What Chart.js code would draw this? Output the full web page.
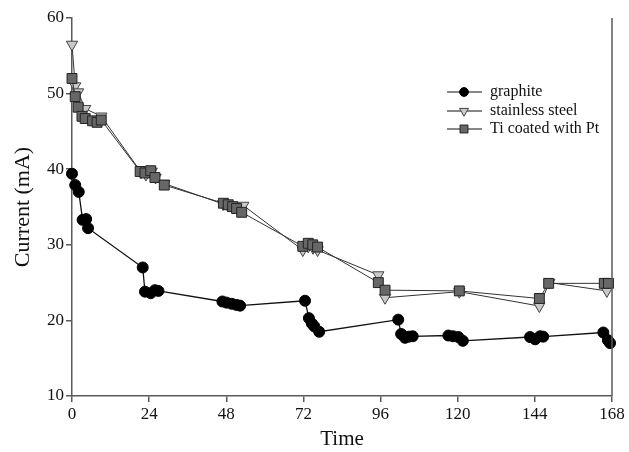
<!DOCTYPE html>
<html>
<head>
<meta charset="utf-8">
<script src="https://cdn.jsdelivr.net/npm/chart.js@4/dist/chart.umd.min.js"></script>
<style>
  html, body { margin: 0; padding: 0; background: #fff; }
  #wrap { width: 629px; height: 452px; }
</style>
</head>
<body>
<div id="wrap"><canvas id="currentChart" width="629" height="452"></canvas></div>
<script>
// valores
const seriesLabels = ['graphite', 'stainless steel', 'Ti coated with Pt'];

const graphiteTime = [0, 1, 2.1, 3.3, 4.4, 5, 22, 22.7, 24.5, 25.8, 26.9, 46.8, 48.1, 49.7, 51.2, 52.3,
  72.5, 73.7, 74.6, 75.4, 76.9, 101.5, 102.4, 103.6, 104.8, 106, 117.1, 118.6, 120.2, 121.6,
  142.5, 144.1, 145.6, 146.6, 165.3, 166.7, 167.4];
const graphiteCurrent = [39.4, 37.9, 37.0, 33.3, 33.4, 32.2, 27.0, 23.8, 23.6, 24.0, 23.9, 22.5, 22.35, 22.2, 22.05, 21.95,
  22.6, 20.3, 19.6, 19.2, 18.5, 20.1, 18.2, 17.7, 17.85, 17.9, 18.0, 17.9, 17.8, 17.3,
  17.8, 17.5, 17.9, 17.85, 18.4, 17.4, 17.0];

const steelTime = [0, 1, 1.9, 4.1, 9.1, 21.5, 23, 24.8, 26, 28.7, 47, 48.5, 50, 51.2, 53.3,
  71.8, 73.5, 75, 76.4, 95.3, 97.4, 120.5, 145.4, 148.5, 166.4];
const steelCurrent = [56.5, 51.0, 50.2, 48.0, 47.0, 39.6, 39.3, 39.7, 38.9, 38.1, 35.4, 35.2, 35.0, 34.9, 35.2,
  29.3, 29.8, 29.6, 29.3, 26.0, 23.0, 23.8, 21.9, 25.0, 23.9];

const tiTime = [0, 1, 1.9, 3.1, 4.1, 6.4, 7.8, 9.1, 21.2, 22.7, 24.5, 25.8, 28.7, 47.1, 48.6, 50, 51.2, 52.8,
  71.8, 73.5, 74.9, 76.4, 95.3, 97.4, 120.5, 145.4, 148.3, 165.6, 166.9];
const tiCurrent = [52.0, 49.6, 48.2, 47.0, 46.7, 46.4, 46.2, 46.5, 39.7, 39.5, 39.8, 38.9, 37.9, 35.5, 35.3, 35.05, 34.8, 34.3,
  29.8, 30.2, 30.0, 29.7, 25.0, 24.0, 23.9, 22.9, 24.9, 24.9, 24.9];

const xTicks = [0, 24, 48, 72, 96, 120, 144, 168];
const yTicks = [10, 20, 30, 40, 50, 60];

function pares(xs, ys) {
  return xs.map((x, i) => ({ x: x, y: ys[i] }));
}

const serif = "'Liberation Serif', 'DejaVu Serif', serif";
const axisColor = '#5a5a5a';

// borda direita e legenda desenhadas à mão
const molduraPlugin = {
  id: 'moldura',
  afterDraw(chart) {
    const { ctx, chartArea } = chart;
    ctx.save();
    ctx.strokeStyle = axisColor;
    ctx.lineWidth = 1.5;
    ctx.beginPath();
    ctx.moveTo(chartArea.right, chartArea.top);
    ctx.lineTo(chartArea.right, chartArea.bottom);
    ctx.stroke();

    const linhaX0 = 447, linhaX1 = 482, marcaX = 464, textoX = 490;
    const linhasY = [92, 111, 129];
    chart.data.datasets.forEach((ds, i) => {
      const y = linhasY[i];
      ctx.strokeStyle = '#111';
      ctx.lineWidth = 1.2;
      ctx.beginPath();
      ctx.moveTo(linhaX0, y);
      ctx.lineTo(linhaX1, y);
      ctx.stroke();
      ctx.fillStyle = ds.pointBackgroundColor;
      ctx.strokeStyle = ds.pointBorderColor;
      ctx.lineWidth = 1;
      Chart.helpers.drawPoint(ctx, {
        pointStyle: ds.pointStyle,
        rotation: ds.pointRotation || 0,
        radius: ds.pointRadius * 0.8,
        borderWidth: 1
      }, marcaX, y);
      ctx.fillStyle = '#111';
      ctx.font = '16px ' + serif;
      ctx.textBaseline = 'middle';
      ctx.textAlign = 'left';
      ctx.fillText(ds.label, textoX, y);
    });
    ctx.restore();
  }
};

const ctx = document.getElementById('currentChart').getContext('2d');
const currentChart = new Chart(ctx, {
  type: 'line',
  data: {
    datasets: [
      {
        label: seriesLabels[0],
        data: pares(graphiteTime, graphiteCurrent),
        borderColor: '#111',
        borderWidth: 1.3,
        pointStyle: 'circle',
        pointRadius: 5.5,
        pointBackgroundColor: '#000',
        pointBorderColor: '#000',
        pointBorderWidth: 1,
        clip: false,
        order: 2
      },
      {
        label: seriesLabels[1],
        data: pares(steelTime, steelCurrent),
        borderColor: '#333',
        borderWidth: 1,
        pointStyle: 'triangle',
        pointRotation: 180,
        pointRadius: 6.5,
        pointBackgroundColor: '#c9c9c9',
        pointBorderColor: '#444',
        pointBorderWidth: 1,
        clip: false,
        order: 1
      },
      {
        label: seriesLabels[2],
        data: pares(tiTime, tiCurrent),
        borderColor: '#333',
        borderWidth: 1,
        pointStyle: 'rect',
        pointRadius: 7,
        pointBackgroundColor: '#676767',
        pointBorderColor: '#222',
        pointBorderWidth: 1,
        clip: false,
        order: 0
      }
    ]
  },
  options: {
    responsive: false,
    animation: false,
    layout: { padding: { left: 0, top: 18, right: 17, bottom: 0 } },
    plugins: {
      legend: { display: false },
      tooltip: { enabled: false }
    },
    scales: {
      x: {
        type: 'linear',
        min: 0,
        max: 168,
        afterBuildTicks: (scale) => { scale.ticks = xTicks.map(v => ({ value: v })); },
        afterFit: (scale) => { scale.height = 56; },
        ticks: { font: { family: serif, size: 17 }, color: '#111', padding: 2, maxRotation: 0 },
        grid: { display: true, drawOnChartArea: false, drawTicks: true, tickLength: 6, color: axisColor, lineWidth: 1.5 },
        border: { display: true, color: axisColor, width: 1.5 },
        title: { display: true, text: 'Time', font: { family: serif, size: 21 }, color: '#111', padding: 0 }
      },
      y: {
        type: 'linear',
        min: 10,
        max: 60,
        afterBuildTicks: (scale) => { scale.ticks = yTicks.map(v => ({ value: v })); },
        afterFit: (scale) => { scale.width = 72; },
        ticks: { font: { family: serif, size: 17 }, color: '#111', padding: 2 },
        grid: { display: true, drawOnChartArea: false, drawTicks: true, tickLength: 6, color: axisColor, lineWidth: 1.5 },
        border: { display: true, color: axisColor, width: 1.5 },
        title: { display: true, text: 'Current (mA)', font: { family: serif, size: 22 }, color: '#111', padding: { top: 10, bottom: 0 } }
      }
    }
  },
  plugins: [molduraPlugin]
});
</script>
</body>
</html>
